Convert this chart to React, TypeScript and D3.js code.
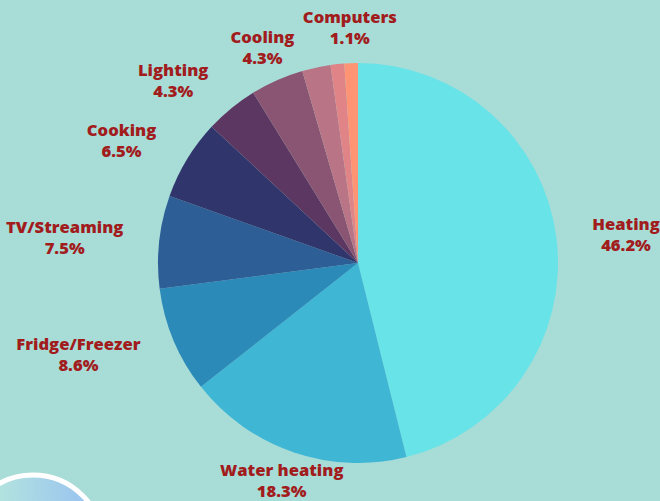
import React, { useEffect, useRef } from 'react';
import * as d3 from 'd3';

const categories = ['Heating', 'Water heating', 'Fridge/Freezer', 'TV/Streaming', 'Cooking', 'Lighting', 'Cooling', 'Other', 'Misc', 'Computers'];
const values = [46.2, 18.3, 8.6, 7.5, 6.5, 4.3, 4.3, 2.3, 1.1, 1.1];
const labelled = [true, true, true, true, true, true, true, false, false, true];
const colors = ['#68E3E8', '#40B6D5', '#2B8AB8', '#2D5E96', '#30356B', '#5C3762', '#8A5572', '#B97585', '#E08487', '#FF9475'];

const W = 660;
const H = 501;
const CX = 358;
const CY = 263;
const R = 200;
const LABEL_R = 236;

export default function App() {
  const ref = useRef<SVGSVGElement | null>(null);

  useEffect(() => {
    const svg = d3.select(ref.current);
    svg.selectAll('*').remove();

    const defs = svg.append('defs');
    const grad = defs.append('linearGradient').attr('id', 'deco').attr('x1', '0').attr('x2', '1').attr('y1', '0').attr('y2', '0');
    grad.append('stop').attr('offset', '0%').attr('stop-color', '#BDEFD8');
    grad.append('stop').attr('offset', '100%').attr('stop-color', '#95BEF3');

    svg.append('rect').attr('width', W).attr('height', H).attr('fill', '#A8DCD7');

    svg.append('circle').attr('cx', 33).attr('cy', 545).attr('r', 70)
      .attr('fill', 'url(#deco)').attr('stroke', '#ffffff').attr('stroke-width', 5);

    const arcs = d3.pie<number>().sort(null).value(d => d)(values);
    const arcGen = d3.arc<d3.PieArcDatum<number>>().innerRadius(0).outerRadius(R);

    const g = svg.append('g').attr('transform', `translate(${CX},${CY})`);
    g.selectAll('path').data(arcs).join('path')
      .attr('d', d => arcGen(d) as string)
      .attr('fill', (_d, i) => colors[i]);

    const lineH = 21;
    arcs.forEach((a, i) => {
      if (!labelled[i]) return;
      const t = svg.append('text')
        .attr('font-family', "'Open Sans', sans-serif")
        .attr('font-weight', 800)
        .attr('font-size', 16.6)
        .attr('fill', '#A11C1D')
        .attr('text-anchor', 'middle');
      t.append('tspan').attr('class', 'l1').text(categories[i]);
      t.append('tspan').attr('class', 'l2').text(`${values[i].toFixed(1)}%`);
      const w1 = (t.select('.l1').node() as SVGTSpanElement).getComputedTextLength();
      const w2 = (t.select('.l2').node() as SVGTSpanElement).getComputedTextLength();
      const hw = Math.max(w1, w2) / 2;
      const hh = lineH;
      const mid = (a.startAngle + a.endAngle) / 2;
      const dx = Math.sin(mid);
      const dy = -Math.cos(mid);
      let cx = CX + dx * LABEL_R;
      let cy = CY + dy * LABEL_R;
      if (Math.abs(dx) > 0.5) cx += Math.sign(dx) * hw;
      cx = Math.max(hw, Math.min(W - hw, cx));
      cy = Math.max(hh, Math.min(H - hh, cy));
      t.select('.l1').attr('x', cx).attr('y', cy - lineH / 2 + 6);
      t.select('.l2').attr('x', cx).attr('y', cy + lineH / 2 + 6);
    });
  }, []);

  return (
    <svg ref={ref} width={W} height={H} style={{ position: 'absolute', left: 0, top: 0, display: 'block' }} />
  );
}
